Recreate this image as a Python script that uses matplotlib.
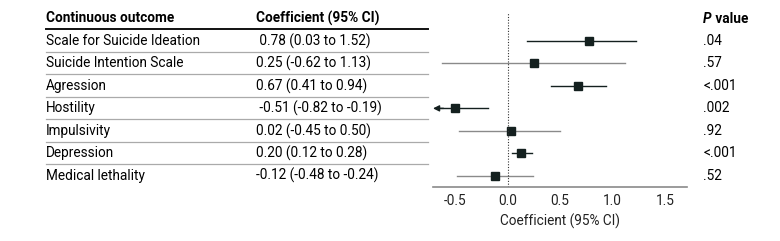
import matplotlib
matplotlib.use("Agg")
import matplotlib.pyplot as plt
from matplotlib.lines import Line2D
from matplotlib.transforms import blended_transform_factory

# data
outcomes = ["Scale for Suicide Ideation", "Suicide Intention Scale", "Agression",
            "Hostility", "Impulsivity", "Depression", "Medical lethality"]
coef_labels = [" 0.78 (0.03 to 1.52)", "0.25 (-0.62 to 1.13)", "0.67 (0.41 to 0.94)",
               " -0.51 (-0.82 to -0.19)", "0.02 (-0.45 to 0.50)", "0.20 (0.12 to 0.28)",
               "-0.12 (-0.48 to -0.24)"]
p_values = [".04", ".57", "<.001", ".002", ".92", "<.001", ".52"]
est = [0.78, 0.25, 0.67, -0.50, 0.03, 0.13, -0.12]
lo = [0.19, -0.62, 0.41, -0.82, -0.46, 0.045, -0.48]
hi = [1.22, 1.12, 0.94, -0.19, 0.50, 0.23, 0.24]
significant = [True, False, True, True, False, True, False]

plt.rcParams["font.family"] = ["Roboto", "DejaVu Sans"]

W, H = 780, 241
fig = plt.figure(figsize=(W / 100, H / 100), dpi=100)
xmin, xmax = -0.71, 1.71
ax = fig.add_axes([433 / W, 1 - 187 / H, (687 - 433) / W, (187 - 12) / H])
ax.set_xlim(xmin, xmax)
ax.set_ylim(6.5, -1.29)

dark = "#14201f"
fs = 9.8
for i in range(len(outcomes)):
    color = dark if significant[i] else "#8a8a8a"
    if lo[i] < xmin:
        ax.plot([xmin + 0.06, hi[i]], [i, i], color=color, lw=1)
        ax.annotate("", xy=(xmin, i), xytext=(xmin + 0.1, i),
                    arrowprops=dict(arrowstyle="-|>", color=dark, lw=1,
                                    mutation_scale=9, shrinkA=0, shrinkB=0))
    else:
        ax.plot([lo[i], hi[i]], [i, i], color=color, lw=1)
    ax.plot(est[i], i, marker="s", ms=5.2, color=dark, linestyle="none")

ax.axvline(0, color="#333333", lw=0.8, ls=(0, (1, 1.5)))

for s in ["top", "right", "left"]:
    ax.spines[s].set_visible(False)
ax.spines["bottom"].set_color("#8a8a8a")
ax.spines["bottom"].set_linewidth(1.2)
ax.set_yticks([])
ax.set_xticks([-0.5, 0, 0.5, 1.0, 1.5])
ax.set_xticklabels(["-0.5", "0.0", "0.5", "1.0", "1.5"])
ax.tick_params(axis="x", length=0, pad=5, labelsize=fs, colors="#222222")
ax.set_xlabel("Coefficient (95% CI)", fontsize=fs, color="#222222", labelpad=4)

# table text
tr = blended_transform_factory(fig.transFigure, ax.transData)
ax.text(46 / W, -1.02, "Continuous outcome", transform=tr, fontsize=fs,
        fontweight="bold", va="center", ha="left", clip_on=False)
ax.text(256 / W, -1.02, "Coefficient (95% CI)", transform=tr, fontsize=fs,
        fontweight="bold", va="center", ha="left", clip_on=False)
p_txt = ax.text(703 / W, -1.0, "P", transform=tr, fontsize=fs, fontweight="bold",
                fontstyle="italic", va="center", ha="left", clip_on=False)
ax.annotate(" value", xy=(1, 0), xycoords=p_txt, fontsize=fs, fontweight="bold",
            va="bottom", ha="left", annotation_clip=False)
for i in range(len(outcomes)):
    ax.text(46 / W, i, outcomes[i], transform=tr, fontsize=fs, va="center",
            ha="left", clip_on=False)
    ax.text(256 / W, i, coef_labels[i], transform=tr, fontsize=fs, va="center",
            ha="left", clip_on=False)
    ax.text(703 / W, i, p_values[i], transform=tr, fontsize=fs, va="center",
            ha="left", clip_on=False)

fig.add_artist(Line2D([46 / W, 428 / W], [-0.53, -0.53], transform=tr,
                      color="#111111", lw=1.4))
for k in range(6):
    fig.add_artist(Line2D([46 / W, 428 / W], [k + 0.48, k + 0.48], transform=tr,
                          color="#aaaaaa", lw=0.9))

fig.savefig("out.png", dpi=100)
